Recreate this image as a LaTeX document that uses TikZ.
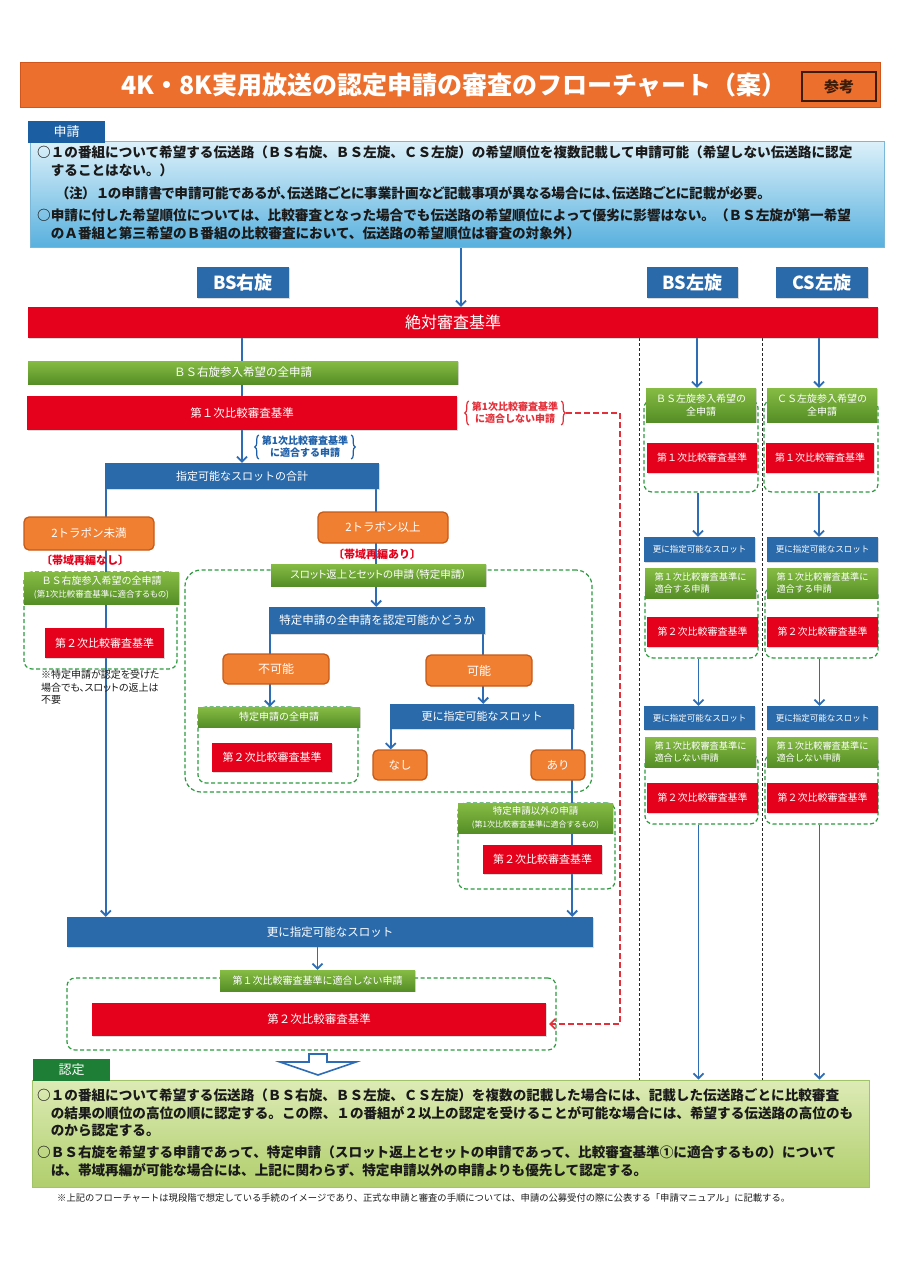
\documentclass[tikz,border=0pt]{standalone}
\usepackage{fontspec}
\setmainfont{Noto Sans CJK JP}
\newfontfamily\pfont{Noto Sans CJK JP}[RawFeature=+palt]
\usetikzlibrary{arrows.meta,decorations.pathreplacing,calc,shadows}
\pgfdeclarelayer{back}
\pgfdeclarelayer{bg}
\pgfsetlayers{back,bg,main}
\definecolor{cblue}{HTML}{2A6AAA}
\definecolor{ctab}{HTML}{1C5EA2}
\definecolor{cred}{HTML}{E5001B}
\definecolor{cgreenT}{HTML}{86BC44}
\definecolor{cgreenB}{HTML}{558E26}
\definecolor{corange}{HTML}{F07F32}
\definecolor{corangeD}{HTML}{C65A17}
\definecolor{cdash}{HTML}{2E9A40}
\definecolor{carrow}{HTML}{2E6DB4}
\definecolor{credd}{HTML}{E3303A}
\definecolor{ctitle}{HTML}{EC6F2D}
\definecolor{ctitleD}{HTML}{D0561C}
\definecolor{crefD}{HTML}{3E1C0A}
\definecolor{cskyT}{HTML}{DDF1FA}
\definecolor{cskyB}{HTML}{58B0DE}
\definecolor{cskyD}{HTML}{7AB8DA}
\definecolor{ctext}{HTML}{1A1A1A}
\definecolor{cninT}{HTML}{DDEBB6}
\definecolor{cninB}{HTML}{B0CE6C}
\definecolor{cninD}{HTML}{A2C468}
\definecolor{cnintab}{HTML}{1E7E36}
\definecolor{cbrace}{HTML}{1D5FA8}
\newcommand\fs[2]{\fontsize{#1}{#2}\selectfont}
\tikzset{
 shd/.style={drop shadow={shadow xshift=1.2pt, shadow yshift=-1.4pt, opacity=0.28}},
 lbl/.style={inner sep=0pt, align=center, text=white},
 sz/.style 2 args={minimum width=#1pt, minimum height=#2pt},
 bluebox/.style={lbl, fill=cblue, shd},
 redbox/.style={lbl, fill=cred, shd},
 greenbox/.style={lbl, top color=cgreenT, bottom color=cgreenB, shd},
 orbox/.style={lbl, fill=corange, draw=corangeD, line width=1.3pt, rounded corners=5pt},
 grp/.style={draw=cdash, line width=1.2pt, dash pattern=on 4pt off 2.5pt, rounded corners=8pt, inner sep=0pt},
 conn/.style={draw=carrow, line width=1.8pt},
 arr/.style={conn, -{Straight Barb[length=5pt,width=10pt]}},
 para/.style={inner sep=0pt, align=left, text=ctext, font=\bfseries\fs{13.6}{18}},
 colsep/.style={draw=black!85, line width=0.9pt, dash pattern=on 3pt off 2pt},
 reddash/.style={draw=credd, line width=1.6pt, dash pattern=on 6pt off 3pt},
 bracelbl/.style={inner sep=0pt, align=center, font=\bfseries\fs{10}{12}},
}
\begin{document}
\begin{tikzpicture}[x=1pt,y=-1pt]
\begin{pgfonlayer}{back}
\fill[white] (0,0) rectangle (900,1274);
\end{pgfonlayer}
\useasboundingbox (0,0) rectangle (900,1274);

% ---------- title ----------
\node[fill=ctitle, draw=ctitleD, line width=1pt, sz={860}{45}, inner sep=0pt, shd] (titlebar) at (450,84.5) {};
\node[text=white, inner sep=0pt, font=\bfseries\fs{25}{28}] (titletext) at (454,85) {4K・8K実用放送の認定申請の審査のフローチャート（案）};
\node[draw=crefD, line width=1.5pt, fill=ctitle, sz={74}{29}, inner sep=0pt, text=crefD, font=\bfseries\fs{15}{18}] (sanko) at (839,86.5) {参考};

% ---------- 申請 ----------
\node[sz={854}{106}, inner sep=0pt, top color=cskyT, bottom color=cskyB, draw=cskyD, line width=0.8pt, shd] (shinseibox) at (457,194) {};
\node[fill=ctab, sz={77}{22}, lbl, font=\fs{13}{15}] (shinseitab) at (66.5,132) {申請};
\node[para, anchor=west] (s1) at (37,161) {○１の番組について希望する伝送路（ＢＳ右旋、ＢＳ左旋、ＣＳ左旋）の希望順位を複数記載して申請可能（希望しない伝送路に認定\\\hspace*{1em}することはない。）};
\node[para, anchor=west, font=\pfont\bfseries\fs{13.6}{18}] (s2) at (62,193) {（注）\hspace{0.6em}１の申請書で申請可能であるが、伝送路ごとに事業計画など記載事項が異なる場合には、伝送路ごとに記載が必要。};
\node[para, anchor=west] (s3) at (37,224) {○申請に付した希望順位については、比較審査となった場合でも伝送路の希望順位によって優劣に影響はない。（ＢＳ左旋が第一希望\\\hspace*{1em}のＡ番組と第三希望のＢ番組の比較審査において、伝送路の希望順位は審査の対象外）};

% ---------- route labels ----------
\node[bluebox, sz={92}{31}, font=\bfseries\fs{18}{20}] (bsr) at (243,282.5) {BS右旋};
\node[bluebox, sz={91}{31}, font=\bfseries\fs{18}{20}] (bsl) at (692.5,282.5) {BS左旋};
\node[bluebox, sz={92}{31}, font=\bfseries\fs{18}{20}] (csl) at (822,282.5) {CS左旋};
\node[redbox, sz={850}{31}, font=\fs{16}{18}] (zettai) at (453,322.5) {絶対審査基準};

% ---------- group boxes (background) ----------
\begin{pgfonlayer}{bg}
\node[grp, sz={153}{97}] (d1) at (100.5,620.5) {};
\node[grp, sz={407}{222}, rounded corners=16pt] (d2) at (388.5,681) {};
\node[grp, sz={160}{76}] (d3) at (278,745) {};
\node[grp, sz={157}{86}] (d4) at (536.5,846) {};
\node[grp, sz={489}{72}] (d5) at (311.5,1014) {};
\node[grp, sz={114}{92}] (dL1) at (701,446) {};
\node[grp, sz={113}{71}] (dL2) at (701.5,622.5) {};
\node[grp, sz={113}{70}] (dL3) at (701.5,789) {};
\node[grp, sz={114}{92}] (dC1) at (821,446) {};
\node[grp, sz={113}{71}] (dC2) at (821.5,622.5) {};
\node[grp, sz={113}{70}] (dC3) at (821.5,789) {};
\end{pgfonlayer}

% ---------- BS右旋 main column ----------
\node[greenbox, sz={430}{23}, font=\fs{11.5}{13}] (allr) at (243,372.5) {ＢＳ右旋参入希望の全申請};
\node[redbox, sz={430}{34}, font=\fs{11.5}{13}] (first) at (242,413) {第１次比較審査基準};
\node[bracelbl, text=credd] (ng) at (515,413) {第1次比較審査基準\\に適合しない申請};
\node[bracelbl, text=cbrace] (ok) at (305,447) {第1次比較審査基準\\に適合する申請};
\node[bluebox, sz={274}{26}, font=\fs{11}{13}] (slotsum) at (242,476) {指定可能なスロットの合計};

\node[orbox, sz={130}{33}, font=\fs{11.5}{13}] (tr1) at (89,533.5) {2トラポン未満};
\node[orbox, sz={130}{31}, font=\fs{11.5}{13}] (tr2) at (383,527.5) {2トラポン以上};
\node[inner sep=0pt, text=cred, font=\bfseries\fs{11}{13}] (nasi) at (85,560) {〔帯域再編なし〕};
\node[inner sep=0pt, text=cred, font=\bfseries\fs{11}{13}] (ari) at (377,554) {〔帯域再編あり〕};

\node[greenbox, sz={155}{32}] (g1) at (101.5,588) {{\fs{10}{12}ＢＳ右旋参入希望の全申請}\\[1pt]{\pfont\fs{8.5}{10}(第1次比較審査基準に適合するもの)}};
\node[redbox, sz={119}{30}, font=\fs{11}{13}] (r1) at (104.5,643) {第２次比較審査基準};
\node[inner sep=0pt, anchor=north west, align=left, text=ctext, font=\pfont\fs{10}{12.5}] (note) at (41,670) {※特定申請が認定を受けた\\場合でも、スロットの返上は\\不要};

\node[greenbox, sz={215}{22}, font=\pfont\fs{10.5}{12}] (g2) at (378.5,575) {スロット返上とセットの申請（特定申請）};
\node[bluebox, sz={216}{27}, font=\fs{11.5}{14}] (tq) at (377,620.5) {特定申請の全申請を認定可能かどうか};
\node[orbox, sz={106}{30}, font=\fs{12}{14}] (fuka) at (276,669) {不可能};
\node[orbox, sz={106}{31}, font=\fs{12}{14}] (kanou) at (479,670.5) {可能};
\node[greenbox, sz={162}{20}, font=\fs{10}{12}] (g3) at (279,717) {特定申請の全申請};
\node[redbox, sz={120}{29}, font=\fs{11}{13}] (r3) at (272,757.5) {第２次比較審査基準};
\node[bluebox, sz={184}{25}, font=\fs{11}{13}] (more2) at (482,716.5) {更に指定可能なスロット};
\node[orbox, sz={54}{30}, font=\fs{11.5}{13}] (nashi) at (400,765) {なし};
\node[orbox, sz={54}{30}, font=\fs{11.5}{13}] (aribox) at (558,765) {あり};
\node[greenbox, sz={155}{30}] (g4) at (535.5,818) {{\fs{9.5}{11}特定申請以外の申請}\\[1pt]{\pfont\fs{8}{9.5}(第1次比較審査基準に適合するもの)}};
\node[redbox, sz={119}{29}, font=\fs{11}{13}] (r4) at (542.5,859.5) {第２次比較審査基準};

\node[bluebox, sz={526}{30}, font=\fs{11.5}{13}] (more) at (330,932) {更に指定可能なスロット};
\node[greenbox, sz={195}{21}, font=\fs{10}{12}] (g5) at (317.5,980.5) {第１次比較審査基準に適合しない申請};
\node[redbox, sz={454}{33}, font=\fs{11.5}{14}] (fin2) at (319,1019.5) {第２次比較審査基準};

% ---------- BS左旋 column ----------
\node[greenbox, sz={110}{34}, font=\fs{10}{12.5}] (gL1) at (701,405) {ＢＳ左旋参入希望の\\全申請};
\node[redbox, sz={110}{30}, font=\fs{10}{12}] (rL1) at (702,458) {第１次比較審査基準};
\node[bluebox, sz={111}{25}, font=\fs{8.5}{11}] (mL1) at (699.5,549.5) {更に指定可能なスロット};
\node[greenbox, sz={111}{30}, align=left, font=\fs{9.2}{11.5}] (gL2) at (700.5,583) {第１次比較審査基準に\\適合する申請};
\node[redbox, sz={111}{30}, font=\fs{10}{12}] (rL2) at (702.5,632) {第２次比較審査基準};
\node[bluebox, sz={111}{24}, font=\fs{8.5}{11}] (mL2) at (699.5,718) {更に指定可能なスロット};
\node[greenbox, sz={111}{30}, align=left, font=\fs{9.2}{11.5}] (gL3) at (700.5,752) {第１次比較審査基準に\\適合しない申請};
\node[redbox, sz={111}{30}, font=\fs{10}{12}] (rL3) at (702.5,798) {第２次比較審査基準};

% ---------- CS左旋 column ----------
\node[greenbox, sz={110}{34}, font=\fs{10}{12.5}] (gC1) at (822,405) {ＣＳ左旋参入希望の\\全申請};
\node[redbox, sz={108}{30}, font=\fs{10}{12}] (rC1) at (820,458) {第１次比較審査基準};
\node[bluebox, sz={111}{25}, font=\fs{8.5}{11}] (mC1) at (822.5,549.5) {更に指定可能なスロット};
\node[greenbox, sz={111}{30}, align=left, font=\fs{9.2}{11.5}] (gC2) at (822.5,583) {第１次比較審査基準に\\適合する申請};
\node[redbox, sz={111}{30}, font=\fs{10}{12}] (rC2) at (822.5,632) {第２次比較審査基準};
\node[bluebox, sz={111}{24}, font=\fs{8.5}{11}] (mC2) at (822.5,718) {更に指定可能なスロット};
\node[greenbox, sz={111}{30}, align=left, font=\fs{9.2}{11.5}] (gC3) at (822.5,752) {第１次比較審査基準に\\適合しない申請};
\node[redbox, sz={111}{30}, font=\fs{10}{12}] (rC3) at (822.5,798) {第２次比較審査基準};

% ---------- 認定 ----------
\node[sz={837}{107}, inner sep=0pt, top color=cninT, bottom color=cninB, draw=cninD, line width=0.8pt, shd] (ninteibox) at (450.5,1133.5) {};
\node[fill=cnintab, sz={77}{22}, lbl, font=\fs{13}{15}] (ninteitab) at (71.5,1070) {認定};
\node[para, anchor=west, font=\bfseries\fs{13.6}{17.5}] (n1) at (37,1113) {○１の番組について希望する伝送路（ＢＳ右旋、ＢＳ左旋、ＣＳ左旋）を複数の記載した場合には、記載した伝送路ごとに比較審査\\\hspace*{1em}の結果の順位の高位の順に認定する。この際、１の番組が２以上の認定を受けることが可能な場合には、希望する伝送路の高位のも\\\hspace*{1em}のから認定する。};
\node[para, anchor=west, font=\bfseries\fs{13.6}{17.5}] (n2) at (37,1161.5) {○ＢＳ右旋を希望する申請であって、特定申請（スロット返上とセットの申請であって、比較審査基準①に適合するもの）について\\\hspace*{1em}は、帯域再編が可能な場合には、上記に関わらず、特定申請以外の申請よりも優先して認定する。};
\node[inner sep=0pt, anchor=west, text=ctext, font=\fs{9.3}{11}] (foot) at (57,1198) {※上記のフローチャートは現段階で想定している手続のイメージであり、正式な申請と審査の手順については、申請の公募受付の際に公表する「申請マニュアル」に記載する。};

% ---------- connectors ----------
\coordinate (vx1) at (639,0);
\coordinate (vx2) at (762,0);
\coordinate (rdx) at (620,0);
\coordinate (ha) at (318,1054);
\begin{pgfonlayer}{bg}
\draw[arr] ([xshift=4pt]shinseibox.south) -- ([xshift=4pt]shinseibox.south |- zettai.north);
\draw[arr] (zettai.south -| slotsum.north) -- (slotsum.north);
\draw[arr] ([xshift=1pt]slotsum.south west) -- ([xshift=1pt]slotsum.south west |- more.north);
\draw[arr] ([xshift=-3pt]slotsum.south east) -- ([xshift=-3pt]slotsum.south east |- tq.north);
\draw[arr] ([xshift=1pt]tq.south west) -- ([xshift=1pt]tq.south west |- g3.north);
\draw[arr] ([xshift=-2pt]tq.south east) -- ([xshift=-2pt]tq.south east |- more2.north);
\draw[arr] ([xshift=1pt]more2.south west) -- ([xshift=1pt]more2.south west |- nashi.north);
\draw[arr] ([xshift=-2pt]more2.south east) -- ([xshift=-2pt]more2.south east |- more.north);
\draw[arr] (more.south -| g5.north) -- (g5.north);
% right columns
\draw[arr] ([xshift=-4pt]gL1.north |- zettai.south) -- ([xshift=-4pt]gL1.north);
\draw[arr] ([xshift=-3pt]dL1.south) -- ([xshift=-3pt]dL1.south |- mL1.north);
\draw[arr] ([xshift=-3pt]dL2.south) -- ([xshift=-3pt]dL2.south |- mL2.north);
\draw[arr] ([xshift=-3pt]dL3.south) -- ([xshift=-3pt]dL3.south |- ninteibox.north);
\draw[arr] ([xshift=-3pt]gC1.north |- zettai.south) -- ([xshift=-3pt]gC1.north);
\draw[arr] ([xshift=-2pt]dC1.south) -- ([xshift=-2pt]dC1.south |- mC1.north);
\draw[arr] ([xshift=-2pt]dC2.south) -- ([xshift=-2pt]dC2.south |- mC2.north);
\draw[arr] ([xshift=-2pt]dC3.south) -- ([xshift=-2pt]dC3.south |- ninteibox.north);
\draw[colsep] (vx1 |- zettai.south) -- (vx1 |- ninteibox.north);
\draw[colsep] (vx2 |- zettai.south) -- (vx2 |- ninteibox.north);
\end{pgfonlayer}

% braces
\draw[credd, line width=1.2pt, decorate, decoration={brace, amplitude=4pt}] ([xshift=-3pt,yshift=-1pt]ng.south west) -- ([xshift=-3pt,yshift=1pt]ng.north west);
\draw[credd, line width=1.2pt, decorate, decoration={brace, amplitude=4pt}] ([xshift=3pt,yshift=1pt]ng.north east) -- ([xshift=3pt,yshift=-1pt]ng.south east);
\draw[cbrace, line width=1.2pt, decorate, decoration={brace, amplitude=4pt}] ([xshift=-3pt,yshift=-1pt]ok.south west) -- ([xshift=-3pt,yshift=1pt]ok.north west);
\draw[cbrace, line width=1.2pt, decorate, decoration={brace, amplitude=4pt}] ([xshift=3pt,yshift=1pt]ok.north east) -- ([xshift=3pt,yshift=-1pt]ok.south east);

% red dashed return path
\draw[reddash, -{Straight Barb[length=5pt,width=10pt]}] ([xshift=8pt]ng.east) -- (ng.east -| rdx) -- ([yshift=-4.5pt]fin2.east -| rdx) -- ([xshift=3pt,yshift=-4.5pt]fin2.east);

% hollow arrow
\draw[carrow, line width=1.6pt, fill=white, line join=miter] (ha) ++(-9,0) -- ++(18,0) -- ++(0,8) -- ++(29,0) -- ++(-38,13) -- ++(-38,-13) -- ++(29,0) -- cycle;
\end{tikzpicture}
\end{document}
